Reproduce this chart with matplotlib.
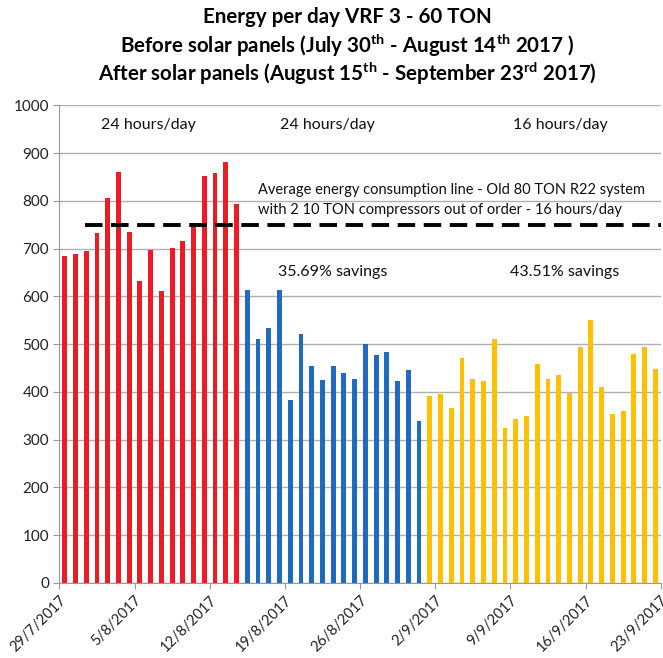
import numpy as np
import pandas as pd
import matplotlib
matplotlib.use('Agg')
import matplotlib.pyplot as plt

plt.rcParams['font.family'] = ['Lato', 'DejaVu Sans']
plt.rcParams['mathtext.fontset'] = 'custom'
plt.rcParams['mathtext.rm'] = 'Lato'
plt.rcParams['mathtext.bf'] = 'Lato:bold'

# daily energy, kWh
before_start = '2017-07-29'
before_vals = [685, 688, 694, 733, 805, 861, 735, 633, 697, 611, 701, 715, 754, 852, 859, 882, 793]
after24_start = '2017-08-15'
after24_vals = [614, 510, 533, 614, 384, 521, 455, 425, 455, 439, 428, 500, 478, 483, 423, 446, 340]
after16_start = '2017-09-01'
after16_vals = [391, 395, 367, 470, 428, 423, 510, 325, 344, 349, 459, 428, 436, 398, 495, 550, 411, 353,
                359, 480, 494, 448]
old_avg = 750

colors = ['#EC1C24', '#1F6BBF', '#FFC000']


def drawBars(ax, start, vals, color):
    days = pd.date_range(start, periods=len(vals), freq='D')
    # bars centred in the middle of each day
    ax.bar(days + pd.Timedelta(hours=12), vals, width=0.45, color=color, zorder=3)


fig = plt.figure(figsize=(6.63, 6.58), dpi=100)
ax = fig.add_axes([0.0895, 0.114, 0.907, 0.726])

drawBars(ax, before_start, before_vals, colors[0])
drawBars(ax, after24_start, after24_vals, colors[1])
drawBars(ax, after16_start, after16_vals, colors[2])

x0 = pd.Timestamp('2017-07-29')
x1 = pd.Timestamp('2017-09-23')
ax.plot([x0 + pd.Timedelta(days=2.4), x1], [old_avg, old_avg], color='black', lw=2.8,
        dashes=(4.5, 2.2), zorder=4)

ax.set_xlim(x0, x1)
ax.set_ylim(0, 1000)
ax.set_yticks(np.arange(0, 1001, 100))
ticks = pd.date_range(x0, x1, freq='7D')
ax.set_xticks(ticks)
ax.set_xticklabels(['{0}/{1}/{2}'.format(t.day, t.month, t.year) for t in ticks], rotation=45,
                   ha='right', rotation_mode='anchor', fontsize=10.5, color='#222222')
ax.tick_params(axis='y', labelsize=11, colors='#222222', length=4, color='#999999')
ax.tick_params(axis='x', length=4, color='#999999')
ax.grid(axis='y', color='#B0B0B0', lw=1, zorder=0)
for s in ['top', 'right']:
    ax.spines[s].set_visible(False)
ax.spines['left'].set_color('#999999')
ax.spines['bottom'].set_color('#999999')


# annotations, placed in pixel positions of the figure
def at(px, py):
    return fig.transFigure.inverted().transform((px, 658 - py))


tkw = dict(fontsize=11.5, color='#111111', ha='center', va='center')
for xx, txt in [(148, '24 hours/day'), (327, '24 hours/day'), (560, '16 hours/day')]:
    fig.text(*at(xx, 125), txt, **tkw)
fig.text(*at(258, 190), 'Average energy consumption line - Old 80 TON R22 system', fontsize=10.5,
         color='#111111', ha='left', va='center')
fig.text(*at(258, 210), 'with 2 10 TON compressors out of order - 16 hours/day', fontsize=10.5,
         color='#111111', ha='left', va='center')
fig.text(*at(333, 272), '35.69% savings', **tkw)
fig.text(*at(565, 272), '43.51% savings', **tkw)

# title
title = ['Energy per day VRF 3 - 60 TON',
         r'Before solar panels (July 30$^{\mathbf{th}}$ - August 14$^{\mathbf{th}}$ 2017 )',
         r'After solar panels (August 15$^{\mathbf{th}}$ - September 23$^{\mathbf{rd}}$ 2017)']
for i, line in enumerate(title):
    fig.text(*at(347, 17 + 28 * i), line, fontsize=14.8, fontweight='bold', ha='center', va='center')

fig.savefig('out.png', dpi=100)
